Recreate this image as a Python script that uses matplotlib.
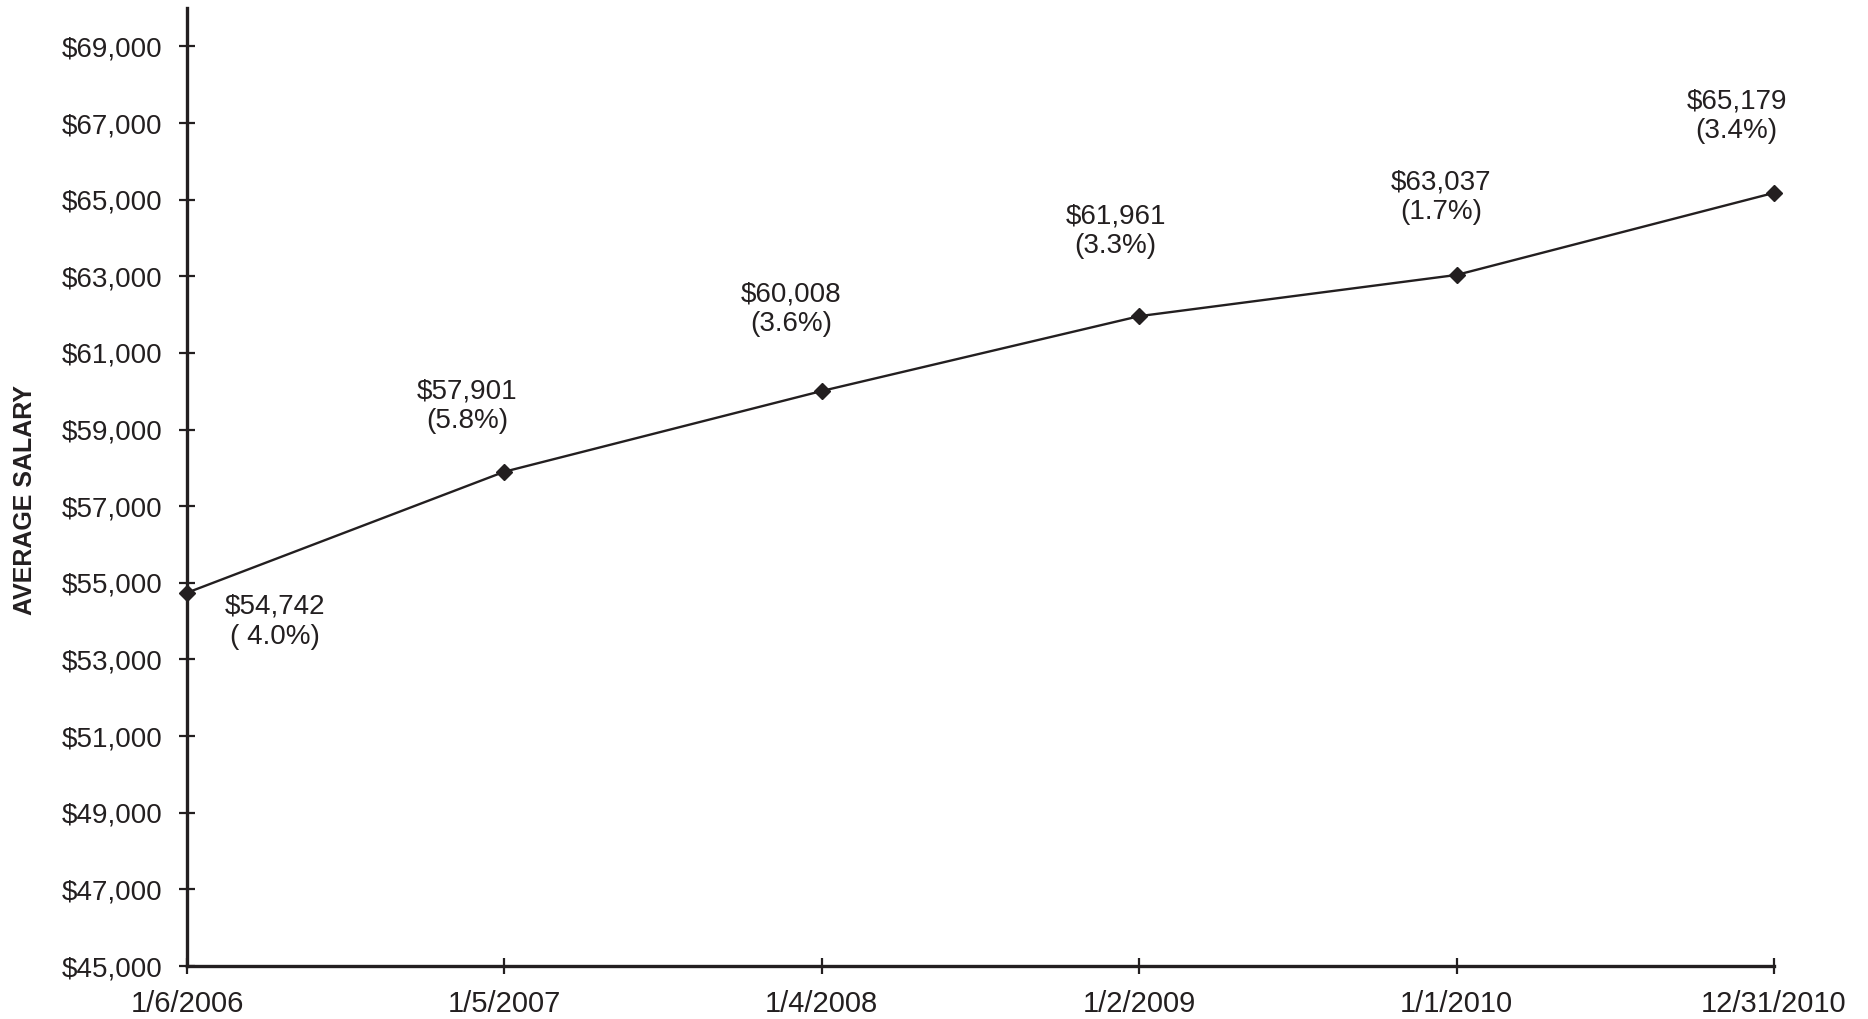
import numpy as np
import matplotlib
matplotlib.use('Agg')
import matplotlib.pyplot as plt
import matplotlib.ticker as mticker

plt.rcParams['font.family'] = ['Liberation Sans', 'DejaVu Sans']

# data
dates = ['1/6/2006', '1/5/2007', '1/4/2008', '1/2/2009', '1/1/2010', '12/31/2010']
salary = [54742, 57901, 60008, 61961, 63037, 65179]
pct_labels = ['( 4.0%)', '(5.8%)', '(3.6%)', '(3.3%)', '(1.7%)', '(3.4%)']
y_ticks = [45000, 47000, 49000, 51000, 53000, 55000, 57000, 59000, 61000, 63000, 65000, 67000, 69000]

# label offsets (points) relative to each marker
label_offsets = [(63, -21), (-27, 47), (-22, 59), (-17, 61), (-11, 56), (-27, 55)]

ink = '#231f20'

fig = plt.figure(figsize=(18.68, 10.19), dpi=100)
ax = fig.add_axes([0.1001, 0.052, 0.8496, 0.940])

x = np.arange(len(dates))
ax.plot(x, salary, color=ink, lw=1.7, marker='D', markersize=8, clip_on=False, zorder=3)

for xi, val, pct, off in zip(x, salary, pct_labels, label_offsets):
    ax.annotate('${:,}\n{}'.format(val, pct), xy=(xi, val), xytext=off,
                textcoords='offset points', ha='center', va='center',
                fontsize=20, color=ink, linespacing=1.2)

ax.set_xlim(0, len(dates) - 1)
ax.set_ylim(45000, 70000)
ax.set_xticks(x)
ax.set_xticklabels(dates)
ax.set_yticks(y_ticks)
ax.yaxis.set_major_formatter(mticker.FuncFormatter(lambda v, p: '${:,.0f}'.format(v)))

for s in ['top', 'right']:
    ax.spines[s].set_visible(False)
for s in ['left', 'bottom']:
    ax.spines[s].set_linewidth(2.4)
    ax.spines[s].set_color(ink)

ax.tick_params(axis='both', direction='inout', length=11, width=1.6, color=ink,
               labelsize=20, labelcolor=ink)
ax.tick_params(axis='y', pad=12)
ax.tick_params(axis='x', pad=12, labelsize=21)

fig.text(0.0135, 1 - 500 / 1019, 'AVERAGE SALARY', rotation=90, fontsize=18,
         fontweight='bold', color=ink, ha='center', va='center')

fig.savefig('out.png', dpi=100, facecolor='white')
